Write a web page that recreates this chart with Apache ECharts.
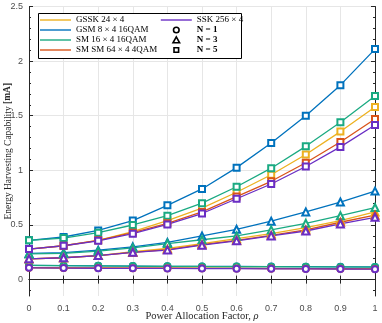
<html>
    <head>
        <meta charset="UTF-8">
    </head>
    <body style="margin:0">
        <div id="container" style="width: 382px;height: 323px"></div>
        <script type="text/javascript" src="https://cdn.jsdelivr.net/npm/echarts@6.0.0/dist/echarts.min.js"></script>
        <script type="text/javascript">
        // power allocation factor
        var rho = [0, 0.1, 0.2, 0.3, 0.4, 0.5, 0.6, 0.7, 0.8, 0.9, 1];
        var yTicks = [0, 0.5, 1, 1.5, 2, 2.5];
        var yMinorTicks = [-0.1, 0.1, 0.2, 0.3, 0.4, 0.6, 0.7, 0.8, 0.9, 1.1, 1.2, 1.3, 1.4, 1.6, 1.7, 1.8, 1.9, 2.1, 2.2, 2.3, 2.4];

        var schemes = ["GSSK 24 × 4", "GSM 8 × 4 16QAM", "SM 16 × 4 16QAM", "SM SM 64 × 4 4QAM", "SSK 256 × 4"];
        var nLabels = ["N = 1", "N = 3", "N = 5"];

        // N = 1
        var gssk1 = [0.110, 0.108, 0.107, 0.106, 0.105, 0.104, 0.103, 0.102, 0.101, 0.100, 0.099];
        var gsm1  = [0.130, 0.128, 0.126, 0.124, 0.122, 0.121, 0.120, 0.119, 0.118, 0.117, 0.116];
        var sm16_1 = [0.131, 0.128, 0.126, 0.124, 0.122, 0.120, 0.119, 0.118, 0.117, 0.116, 0.115];
        var sm64_1 = [0.109, 0.107, 0.106, 0.105, 0.104, 0.103, 0.102, 0.101, 0.100, 0.099, 0.098];
        var ssk1  = [0.108, 0.106, 0.104, 0.103, 0.102, 0.101, 0.100, 0.099, 0.098, 0.097, 0.096];
        // N = 3
        var gssk3 = [0.19, 0.20, 0.22, 0.255, 0.285, 0.33, 0.375, 0.42, 0.475, 0.54, 0.62];
        var gsm3  = [0.24, 0.247, 0.27, 0.30, 0.34, 0.40, 0.46, 0.535, 0.62, 0.71, 0.81];
        var sm16_3 = [0.235, 0.24, 0.26, 0.29, 0.33, 0.365, 0.40, 0.455, 0.515, 0.585, 0.66];
        var sm64_3 = [0.19, 0.20, 0.22, 0.25, 0.275, 0.32, 0.36, 0.405, 0.455, 0.525, 0.59];
        var ssk3  = [0.19, 0.20, 0.22, 0.25, 0.27, 0.315, 0.355, 0.40, 0.445, 0.51, 0.57];
        // N = 5
        var gssk5 = [0.28, 0.31, 0.36, 0.44, 0.54, 0.655, 0.80, 0.96, 1.145, 1.355, 1.58];
        var gsm5  = [0.36, 0.39, 0.45, 0.54, 0.68, 0.83, 1.025, 1.25, 1.50, 1.78, 2.11];
        var sm16_5 = [0.36, 0.38, 0.43, 0.50, 0.585, 0.70, 0.85, 1.02, 1.22, 1.44, 1.68];
        var sm64_5 = [0.28, 0.31, 0.36, 0.43, 0.515, 0.62, 0.76, 0.90, 1.07, 1.26, 1.47];
        var ssk5  = [0.28, 0.31, 0.355, 0.42, 0.505, 0.605, 0.74, 0.875, 1.035, 1.215, 1.415];

        var colors = ["#EDB120", "#0072BD", "#1AAA82", "#D95319", "#6A2EC4"];
        var symbols = ["emptyCircle", "emptyTriangle", "emptyRect"];
        var symbolSizes = [6, 7, 6];
        // legend marker icons drawn inside a 31x7 box so they keep their shape
        var legendSymbols = [
            "path://M0,0 M31,7 M18.3,3.5 A2.8,2.8 0 1 1 12.7,3.5 A2.8,2.8 0 1 1 18.3,3.5 Z",
            "path://M0,0 M31,7 M15.5,0.3 L18.8,6.3 L12.2,6.3 Z",
            "path://M0,0 M31,7 M13.2,1.2 L17.8,1.2 L17.8,5.8 L13.2,5.8 Z"
        ];

        var dataByScheme = [
            [gssk1, gssk3, gssk5],
            [gsm1, gsm3, gsm5],
            [sm16_1, sm16_3, sm16_5],
            [sm64_1, sm64_3, sm64_5],
            [ssk1, ssk3, ssk5]
        ];

        var series = [];
        for (var k = 0; k < 3; k++) {
            for (var s = 0; s < schemes.length; s++) {
                var values = dataByScheme[s][k];
                var pts = [];
                for (var i = 0; i < rho.length; i++) {
                    pts.push([rho[i], values[i]]);
                }
                series.push({
                    name: schemes[s],
                    type: "line",
                    data: pts,
                    symbol: symbols[k],
                    symbolSize: symbolSizes[k],
                    showAllSymbol: true,
                    color: colors[s],
                    lineStyle: {width: 1.3},
                    itemStyle: {borderWidth: 1.3},
                    z: 3
                });
            }
        }
        for (var n = 0; n < nLabels.length; n++) {
            series.push({name: nLabels[n], type: "line", data: [], color: "#000"});
        }

        var linePath = "path://M0,0 L31,0 L31,1.4 L0,1.4 Z";
        function lineItem(idx) {
            return {name: schemes[idx], icon: linePath, itemStyle: {color: colors[idx], borderWidth: 0}};
        }
        function markItem(idx) {
            return {
                name: nLabels[idx],
                icon: legendSymbols[idx],
                itemStyle: {color: "rgba(0,0,0,0)", borderColor: "#000", borderWidth: 1.6},
                textStyle: {fontWeight: "bold"}
            };
        }

        var legendText = {fontFamily: "Liberation Serif", fontSize: 9, color: "#000", lineHeight: 10};
        var tickLabel = {fontFamily: "Liberation Sans", fontSize: 9, color: "#4d4d4d"};
        var axisLine = {show: true, lineStyle: {color: "#262626", width: 1}};

        var myChart = echarts.init(document.getElementById("container"));
        var option = {
            animation: false,
            backgroundColor: "#fff",
            grid: {left: 29, right: 7, top: 6.5, bottom: 27, outerBoundsMode: "none", containLabel: false},
            graphic: [{
                type: "rect",
                shape: {x: 38.5, y: 13.5, width: 203, height: 45},
                style: {fill: "#fff", stroke: "#000", lineWidth: 1},
                z: 10
            }],
            legend: [{
                orient: "vertical",
                left: 40, top: 15,
                itemWidth: 31, itemHeight: 7, itemGap: 0,
                padding: 0,
                textStyle: legendText,
                data: [lineItem(0), lineItem(1), lineItem(2), lineItem(3)],
                z: 20
            }, {
                orient: "vertical",
                left: 160, top: 15,
                itemWidth: 31, itemHeight: 7, itemGap: 0,
                padding: 0,
                textStyle: legendText,
                data: [lineItem(4), markItem(0), markItem(1), markItem(2)],
                z: 20
            }],
            xAxis: [{
                type: "value",
                min: 0, max: 1, interval: 0.1,
                position: "bottom",
                name: "Power Allocation Factor, {i|ρ}",
                nameLocation: "middle",
                nameGap: 15,
                nameMoveOverlap: false,
                nameTextStyle: {fontFamily: "Liberation Serif", fontSize: 10.5, color: "#262626",
                    rich: {i: {fontFamily: "Liberation Serif", fontStyle: "italic", fontSize: 10.5, color: "#262626"}}},
                axisLine: axisLine,
                axisTick: {inside: true, length: 4, lineStyle: {color: "#262626"}},
                axisLabel: tickLabel,
                splitLine: {show: true, lineStyle: {color: "#e6e6e6", width: 1}}
            }, {
                type: "value",
                min: 0, max: 1, interval: 0.1,
                position: "top",
                axisLine: axisLine,
                axisTick: {inside: true, length: 4, lineStyle: {color: "#262626"}},
                axisLabel: {show: false},
                splitLine: {show: false}
            }],
            yAxis: [{
                type: "value",
                min: -0.15, max: 2.5,
                position: "left",
                name: "Energy Harvesting Capability {b|[mA]}",
                nameLocation: "middle",
                nameGap: 16,
                nameMoveOverlap: false,
                nameTextStyle: {fontFamily: "Liberation Serif", fontSize: 9.5, color: "#262626",
                    rich: {b: {fontFamily: "Liberation Serif", fontWeight: "bold", fontSize: 9.5, color: "#262626"}}},
                axisLine: axisLine,
                axisTick: {inside: true, length: 4, customValues: yTicks, lineStyle: {color: "#262626"}},
                axisLabel: Object.assign({customValues: yTicks, margin: 6}, tickLabel),
                splitLine: {show: true, lineStyle: {color: "#e6e6e6", width: 1}}
            }, {
                type: "value",
                min: -0.15, max: 2.5,
                position: "left",
                axisLine: {show: false},
                axisTick: {inside: true, length: 2, customValues: yMinorTicks, lineStyle: {color: "#262626"}},
                axisLabel: {show: false, customValues: yMinorTicks},
                splitLine: {show: false}
            }, {
                type: "value",
                min: -0.15, max: 2.5,
                position: "right",
                axisLine: axisLine,
                axisTick: {inside: true, length: 4, customValues: yTicks, lineStyle: {color: "#262626"}},
                axisLabel: {show: false, customValues: yTicks},
                splitLine: {show: false}
            }, {
                type: "value",
                min: -0.15, max: 2.5,
                position: "right",
                axisLine: {show: false},
                axisTick: {inside: true, length: 2, customValues: yMinorTicks, lineStyle: {color: "#262626"}},
                axisLabel: {show: false, customValues: yMinorTicks},
                splitLine: {show: false}
            }],
            series: series
        };
        myChart.setOption(option);
        </script>
    </body>
</html>
